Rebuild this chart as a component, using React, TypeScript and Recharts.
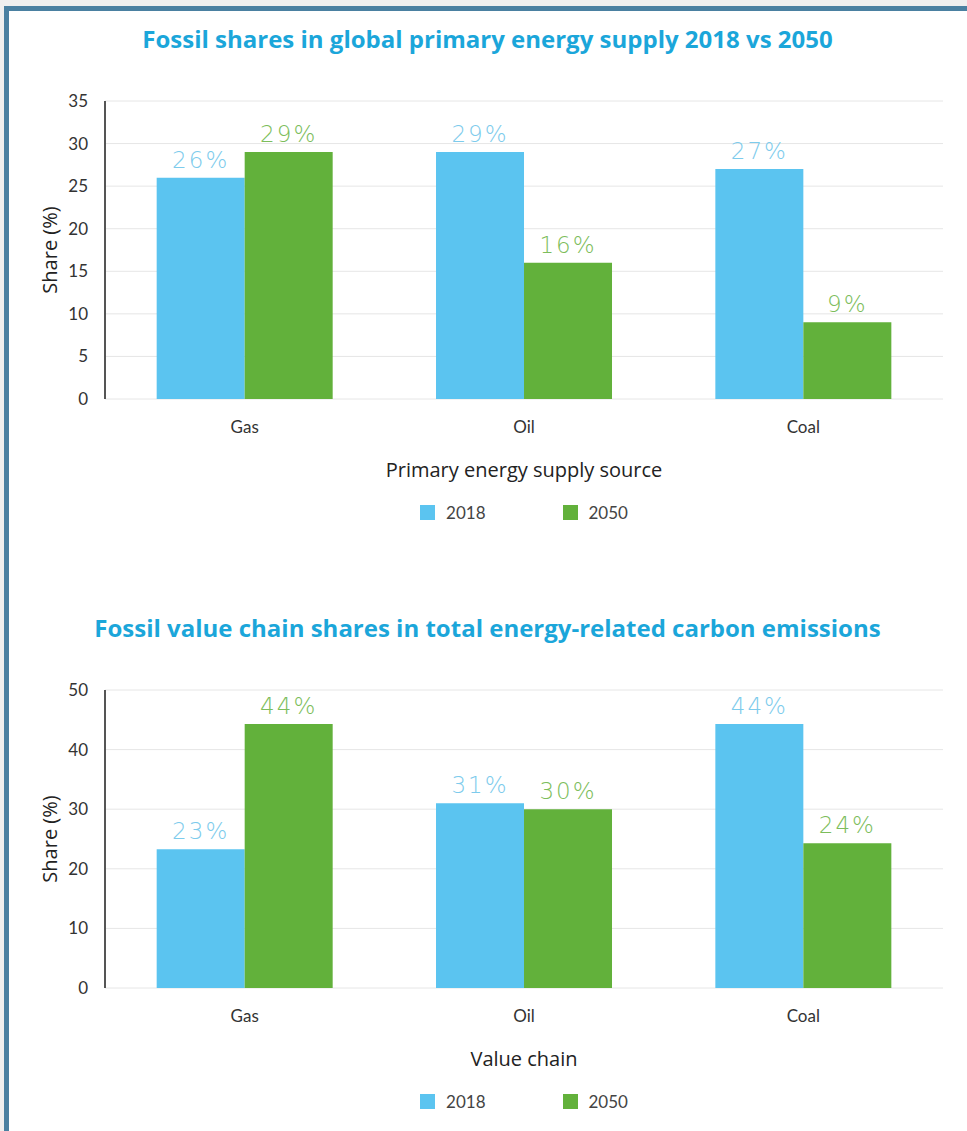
import React from 'react';
import { BarChart, Bar, XAxis, YAxis, CartesianGrid, Legend, LabelList } from 'recharts';

const categories = ['Gas', 'Oil', 'Coal'];
const seriesNames = ['2018', '2050'];

// chart 1: primary energy supply
const supply2018 = [26, 29, 27];
const supply2050 = [29, 16, 9];
const supplyTicks = [0, 5, 10, 15, 20, 25, 30, 35];

// chart 2: value chain emissions
const emissions2018 = [23.3, 31, 44.3];
const emissions2050 = [44.3, 30, 24.3];
const emissionsTicks = [0, 10, 20, 30, 40, 50];

const BLUE = '#5bc4f0';
const GREEN = '#62b13b';
const BLUE_LABEL = '#7dcbec';
const GREEN_LABEL = '#7cbd5b';
const FONT = 'Lato, "Open Sans", sans-serif';
const WIDE_FONT = '"Open Sans", Lato, sans-serif';

const labelStyle = { fontFamily: '"DejaVu Sans", sans-serif', fontSize: 23, fontWeight: 300, letterSpacing: 2 };

const LegendContent = ({ payload }: any) => (
  <div style={{ display: 'flex', justifyContent: 'center', alignItems: 'center', height: 20, fontFamily: FONT, fontSize: 17, color: '#444' }}>
    {(payload || []).map((entry: any, i: number) => (
      <div key={i} style={{ display: 'flex', alignItems: 'center', marginLeft: i ? 77 : 0 }}>
        <span style={{ width: 15, height: 15, background: entry.color, marginRight: 11, display: 'inline-block' }} />
        <span>{entry.value}</span>
      </div>
    ))}
  </div>
);

interface PanelProps {
  title: string;
  xLabel: string;
  values2018: number[];
  values2050: number[];
  ticks: number[];
  top: number;
}

const Panel: React.FC<PanelProps> = ({ title, xLabel, values2018, values2050, ticks, top }) => {
  const data = categories.map((name, i) => ({ name, a: values2018[i], b: values2050[i] }));
  return (
    <div style={{ position: 'absolute', left: 0, top, width: 967, height: 560 }}>
      <div style={{ position: 'absolute', left: 0, width: 975, top: 24, textAlign: 'center', fontFamily: WIDE_FONT, fontWeight: 700, fontSize: 24, color: '#1ba6da', lineHeight: '30px' }}>
        {title}
      </div>
      <BarChart width={967} height={560} data={data} margin={{ top: 101, right: 24, left: 45, bottom: 38 }} barCategoryGap="18.5%" barGap={0}>
        <CartesianGrid vertical={false} stroke="#e6e6e6" />
        <XAxis dataKey="name" tickLine={false} axisLine={false} height={103} tickMargin={16}
          tick={{ fill: '#333', fontSize: 17, fontFamily: FONT }}
          label={{ value: xLabel, position: 'insideBottom', offset: 25, fill: '#222', fontSize: 20, fontFamily: WIDE_FONT }} />
        <YAxis width={60} domain={[0, ticks[ticks.length - 1]]} ticks={ticks} tickLine={false} tickMargin={11}
          axisLine={{ stroke: '#555', strokeWidth: 2 }}
          tick={{ fill: '#333', fontSize: 17, fontFamily: FONT }}
          label={{ value: 'Share (%)', angle: -90, position: 'insideLeft', offset: 5, fill: '#222', fontSize: 20, fontFamily: WIDE_FONT, style: { textAnchor: 'middle' } }} />
        <Legend verticalAlign="bottom" content={<LegendContent />} wrapperStyle={{ left: 105, width: 838 }} />
        <Bar dataKey="a" name={seriesNames[0]} fill={BLUE} isAnimationActive={false}>
          <LabelList dataKey="a" position="top" offset={10} formatter={(v: any) => `${Math.round(v)}%`} fill={BLUE_LABEL} style={labelStyle} />
        </Bar>
        <Bar dataKey="b" name={seriesNames[1]} fill={GREEN} isAnimationActive={false}>
          <LabelList dataKey="b" position="top" offset={10} formatter={(v: any) => `${Math.round(v)}%`} fill={GREEN_LABEL} style={labelStyle} />
        </Bar>
      </BarChart>
    </div>
  );
};

export default function App() {
  return (
    <div style={{ position: 'absolute', left: 0, top: 0, width: 967, height: 1131, overflow: 'hidden', background: '#efefef' }}>
      <div style={{ position: 'absolute', left: 4, top: 6, width: 1000, height: 1200, background: '#fff', borderLeft: '5px solid #4a80a1', borderTop: '5px solid #4a80a1' }} />
      <Panel title="Fossil shares in global primary energy supply 2018 vs 2050" xLabel="Primary energy supply source"
        values2018={supply2018} values2050={supply2050} ticks={supplyTicks} top={0} />
      <Panel title="Fossil value chain shares in total energy-related carbon emissions" xLabel="Value chain"
        values2018={emissions2018} values2050={emissions2050} ticks={emissionsTicks} top={589} />
    </div>
  );
}
